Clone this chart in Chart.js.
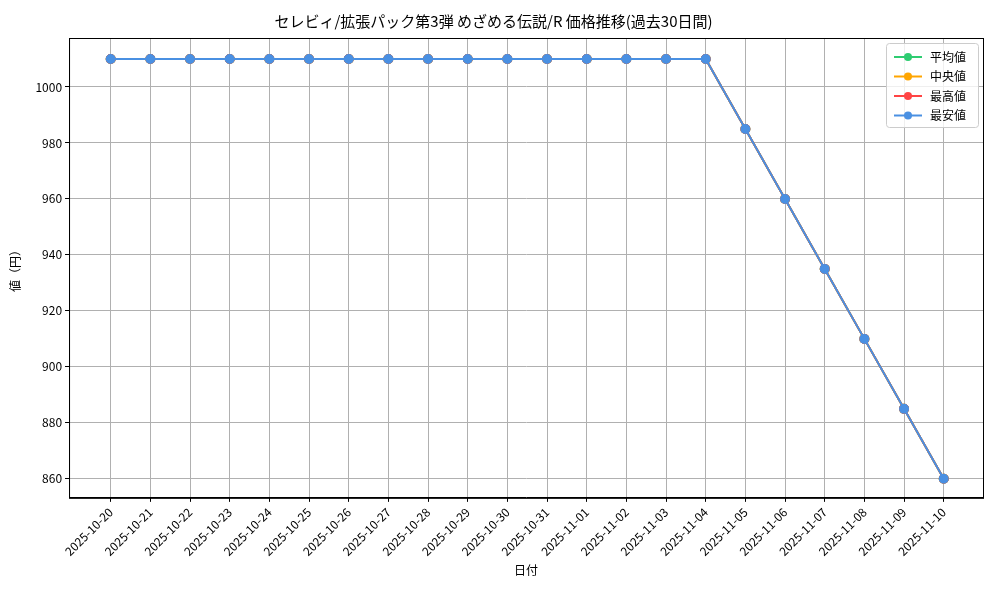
<!DOCTYPE html>
<html>
<head>
<meta charset="utf-8">
<script src="https://cdn.jsdelivr.net/npm/chart.js@4"></script>
<style>body{margin:0;background:#fff}</style>
</head>
<body>
<canvas id="c" width="1000" height="600"></canvas>
<script>
const dates = ["2025-10-20","2025-10-21","2025-10-22","2025-10-23","2025-10-24","2025-10-25","2025-10-26","2025-10-27","2025-10-28","2025-10-29","2025-10-30","2025-10-31","2025-11-01","2025-11-02","2025-11-03","2025-11-04","2025-11-05","2025-11-06","2025-11-07","2025-11-08","2025-11-09","2025-11-10"];
const avgValues = [1010,1010,1010,1010,1010,1010,1010,1010,1010,1010,1010,1010,1010,1010,1010,1010,985,960,935,910,885,860];
const medianValues = [1010,1010,1010,1010,1010,1010,1010,1010,1010,1010,1010,1010,1010,1010,1010,1010,985,960,935,910,885,860];
const maxValues = [1010,1010,1010,1010,1010,1010,1010,1010,1010,1010,1010,1010,1010,1010,1010,1010,985,960,935,910,885,860];
const minValues = [1010,1010,1010,1010,1010,1010,1010,1010,1010,1010,1010,1010,1010,1010,1010,1010,985,960,935,910,885,860];
const yTicks = [860,880,900,920,940,960,980,1000];

const FONT = "'Noto Sans CJK JP', 'DejaVu Sans', sans-serif";

function series(label, values, color, order) {
  return {
    label: label,
    data: values.map((v, i) => ({ x: i, y: v })),
    borderColor: color,
    backgroundColor: color,
    borderWidth: 2,
    pointRadius: 4,
    pointHoverRadius: 4,
    tension: 0,
    order: order
  };
}

// matplotlib-style legend and full axes frame
const boxLegend = {
  id: "boxLegend",
  afterDraw(chart) {
    const ctx = chart.ctx, a = chart.chartArea;
    const ds = chart.data.datasets;
    ctx.save();
    ctx.strokeStyle = "#000"; ctx.lineWidth = 1;
    ctx.strokeRect(a.left + 0.5, a.top + 0.5, a.right - a.left, a.bottom - a.top);
    const w = 92, h = 84, x = a.right - w - 5, y = a.top + 5;
    ctx.fillStyle = "rgba(255,255,255,0.8)";
    ctx.strokeStyle = "#cccccc";
    ctx.beginPath();
    ctx.roundRect(x + 0.5, y + 0.5, w, h, 3);
    ctx.fill(); ctx.stroke();
    ctx.font = "12px " + FONT;
    ctx.textBaseline = "middle";
    ds.forEach((d, i) => {
      const cy = y + 14 + i * 19.5;
      ctx.strokeStyle = d.borderColor; ctx.lineWidth = 2;
      ctx.beginPath(); ctx.moveTo(x + 8, cy); ctx.lineTo(x + 36, cy); ctx.stroke();
      ctx.fillStyle = d.borderColor;
      ctx.beginPath(); ctx.arc(x + 22, cy, 4, 0, Math.PI * 2); ctx.fill();
      ctx.fillStyle = "#000";
      ctx.fillText(d.label, x + 44, cy);
    });
    ctx.restore();
  }
};

new Chart(document.getElementById("c").getContext("2d"), {
  type: "line",
  data: {
    datasets: [
      series("平均値", avgValues, "#2ecc71", 3),
      series("中央値", medianValues, "#ffa500", 2),
      series("最高値", maxValues, "#ff4444", 1),
      series("最安値", minValues, "#4a90e2", 0)
    ]
  },
  options: {
    responsive: false,
    animation: false,
    layout: { padding: { top: 8, right: 17, left: 4, bottom: 18 } },
    plugins: {
      legend: { display: false },
      tooltip: { enabled: false },
      title: {
        display: true,
        text: "セレビィ/拡張パック第3弾 めざめる伝説/R 価格推移(過去30日間)",
        color: "#000",
        font: { family: FONT, size: 15, weight: "normal" },
        padding: { top: 4, bottom: 8 }
      }
    },
    scales: {
      x: {
        type: "linear",
        min: -1.05,
        max: 21.99,
        afterBuildTicks(axis) { axis.ticks = dates.map((d, i) => ({ value: i })); },
        ticks: {
          autoSkip: false,
          maxRotation: 45,
          minRotation: 45,
          color: "#000",
          font: { family: FONT, size: 12 },
          callback: (v) => dates[v]
        },
        grid: { color: "#b0b0b0", tickColor: "#000", tickLength: 4 },
        border: { color: "#000" },
        title: { display: true, text: "日付", color: "#000", font: { family: FONT, size: 12 }, padding: { top: 2 } }
      },
      y: {
        min: 853.2,
        max: 1017.5,
        afterBuildTicks(axis) { axis.ticks = yTicks.map(v => ({ value: v })); },
        ticks: { color: "#000", font: { family: FONT, size: 12 }, callback: (v) => String(v) },
        grid: { color: "#b0b0b0", tickColor: "#000", tickLength: 4 },
        border: { color: "#000" },
        title: { display: true, text: "値（円）", color: "#000", font: { family: FONT, size: 12 }, padding: { bottom: 10 } }
      }
    }
  },
  plugins: [boxLegend]
});
</script>
</body>
</html>
